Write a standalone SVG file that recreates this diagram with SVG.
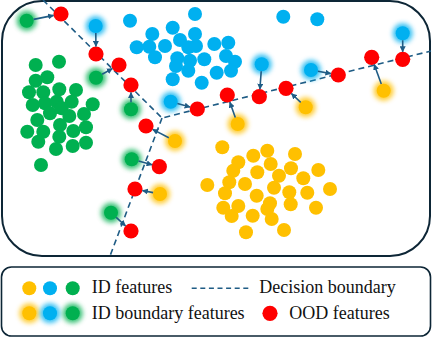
<svg xmlns="http://www.w3.org/2000/svg" width="432" height="338" viewBox="0 0 432 338">
<defs>
<style>
.frame{fill:#fff;stroke:#0d2636;stroke-width:2}
.g{fill:#00B050}.b{fill:#00B0F0}.y{fill:#FFC000}.r{fill:#FF0000}
.glow{filter:url(#blur);opacity:0.8}
.arrow{stroke:#1F5C85;stroke-width:1.6;fill:none;marker-end:url(#ah)}
.boundary{stroke:#1F5C85;stroke-width:1.6;stroke-dasharray:6 4;fill:none}
.lbl{font-family:"Liberation Serif","Times New Roman",serif;font-size:18px;fill:#111}
</style>
<filter id="blur" x="-60%" y="-60%" width="220%" height="220%"><feGaussianBlur stdDeviation="2.6"/></filter>
<marker id="ah" viewBox="0 0 6 6" refX="5.5" refY="3" markerWidth="6" markerHeight="6" markerUnits="userSpaceOnUse" orient="auto"><path d="M0,0 L6,3 L0,6 z" fill="#1F5C85"/></marker>
</defs>
<rect class="frame" x="2" y="1" width="428" height="255" rx="40"/>
<g id="decision-boundary">
<path class="boundary" d="M43,0 L162,118 L431,51 M162,118 L110,256"/>
</g>
<g id="id-blue-cluster" class="b">
<circle cx="130" cy="20.7" r="7"/><circle cx="195" cy="14" r="7"/><circle cx="172.7" cy="27.7" r="7"/><circle cx="152.3" cy="34" r="7"/><circle cx="195" cy="34" r="7"/><circle cx="180" cy="40" r="7"/><circle cx="136.7" cy="47.3" r="7"/><circle cx="149.3" cy="46.7" r="7"/><circle cx="165" cy="46" r="7"/><circle cx="188.3" cy="47.3" r="7"/><circle cx="196" cy="46" r="7"/><circle cx="214.3" cy="44" r="7"/><circle cx="228.3" cy="42.7" r="7"/><circle cx="155" cy="57.3" r="7"/><circle cx="177.3" cy="58.3" r="7"/><circle cx="190" cy="60.7" r="7"/><circle cx="204.3" cy="59.3" r="7"/><circle cx="226" cy="56" r="7"/><circle cx="235" cy="61.7" r="7"/><circle cx="176" cy="66" r="7"/><circle cx="188.3" cy="70.7" r="7"/><circle cx="216.7" cy="72.7" r="7"/><circle cx="231" cy="70.7" r="7"/><circle cx="172.7" cy="79.3" r="7"/><circle cx="201.7" cy="82.7" r="7"/><circle cx="283.3" cy="16.7" r="7"/><circle cx="317.3" cy="19.3" r="7"/>
</g>
<g id="id-green-cluster" class="g">
<circle cx="35.7" cy="65" r="7"/><circle cx="59" cy="61.7" r="7"/><circle cx="35.7" cy="80.7" r="7"/><circle cx="47.3" cy="77.3" r="7"/><circle cx="29" cy="92.3" r="7"/><circle cx="43.3" cy="92.3" r="7"/><circle cx="59.3" cy="89.3" r="7"/><circle cx="76" cy="90" r="7"/><circle cx="32.7" cy="105" r="7"/><circle cx="45" cy="103.3" r="7"/><circle cx="56.7" cy="101.7" r="7"/><circle cx="71.7" cy="101.7" r="7"/><circle cx="92.7" cy="104.3" r="7"/><circle cx="50" cy="113.3" r="7"/><circle cx="61.7" cy="108.3" r="7"/><circle cx="69.3" cy="116" r="7"/><circle cx="84" cy="114" r="7"/><circle cx="37.3" cy="120" r="7"/><circle cx="60" cy="125" r="7"/><circle cx="86" cy="127.3" r="7"/><circle cx="27.3" cy="131.7" r="7"/><circle cx="43.3" cy="131.7" r="7"/><circle cx="73.3" cy="131" r="7"/><circle cx="59.3" cy="136.7" r="7"/><circle cx="38.3" cy="141.7" r="7"/><circle cx="86" cy="142.7" r="7"/><circle cx="72.7" cy="146" r="7"/><circle cx="56" cy="149" r="7"/><circle cx="41" cy="165" r="7"/>
</g>
<g id="id-yellow-cluster" class="y">
<circle cx="222.3" cy="147.3" r="7"/><circle cx="253.3" cy="155.7" r="7"/><circle cx="267.3" cy="150.7" r="7"/><circle cx="295" cy="154" r="7"/><circle cx="238.3" cy="162.3" r="7"/><circle cx="270.7" cy="164" r="7"/><circle cx="233.3" cy="170.7" r="7"/><circle cx="257.3" cy="172.3" r="7"/><circle cx="291" cy="168.3" r="7"/><circle cx="318.3" cy="170" r="7"/><circle cx="279" cy="175.7" r="7"/><circle cx="303.3" cy="178.3" r="7"/><circle cx="207.3" cy="185" r="7"/><circle cx="229.3" cy="182.3" r="7"/><circle cx="245" cy="184" r="7"/><circle cx="274" cy="187.7" r="7"/><circle cx="225" cy="193.3" r="7"/><circle cx="289.3" cy="192.3" r="7"/><circle cx="307.3" cy="192.7" r="7"/><circle cx="330" cy="189" r="7"/><circle cx="256.7" cy="195.7" r="7"/><circle cx="270" cy="203.3" r="7"/><circle cx="290.7" cy="204.3" r="7"/><circle cx="223.3" cy="207.7" r="7"/><circle cx="238.3" cy="206" r="7"/><circle cx="316" cy="207.7" r="7"/><circle cx="267.3" cy="209" r="7"/><circle cx="252.7" cy="215.7" r="7"/><circle cx="231.7" cy="216" r="7"/><circle cx="271.7" cy="219" r="7"/><circle cx="246" cy="232.3" r="7"/><circle cx="284" cy="230" r="7"/>
</g>
<g id="boundary-features">
<g id="bf-green-1"><circle class="g glow" cx="26.7" cy="20.7" r="10"/><circle class="g" cx="26.7" cy="20.7" r="7"/></g>
<g id="bf-blue-1"><circle class="b glow" cx="95.7" cy="26" r="10"/><circle class="b" cx="95.7" cy="26" r="7"/></g>
<g id="bf-green-2"><circle class="g glow" cx="96" cy="77.7" r="10"/><circle class="g" cx="96" cy="77.7" r="7"/></g>
<g id="bf-green-3"><circle class="g glow" cx="131" cy="109.3" r="10"/><circle class="g" cx="131" cy="109.3" r="7"/></g>
<g id="bf-blue-2"><circle class="b glow" cx="170.7" cy="101.7" r="10"/><circle class="b" cx="170.7" cy="101.7" r="7"/></g>
<g id="bf-yellow-1"><circle class="y glow" cx="175" cy="141" r="10"/><circle class="y" cx="175" cy="141" r="7"/></g>
<g id="bf-green-4"><circle class="g glow" cx="131.7" cy="159.3" r="10"/><circle class="g" cx="131.7" cy="159.3" r="7"/></g>
<g id="bf-yellow-2"><circle class="y glow" cx="160" cy="194" r="10"/><circle class="y" cx="160" cy="194" r="7"/></g>
<g id="bf-green-5"><circle class="g glow" cx="111" cy="212.7" r="10"/><circle class="g" cx="111" cy="212.7" r="7"/></g>
<g id="bf-yellow-3"><circle class="y glow" cx="237.7" cy="124" r="10"/><circle class="y" cx="237.7" cy="124" r="7"/></g>
<g id="bf-blue-3"><circle class="b glow" cx="261.7" cy="64.3" r="10"/><circle class="b" cx="261.7" cy="64.3" r="7"/></g>
<g id="bf-yellow-4"><circle class="y glow" cx="305.7" cy="107.3" r="10"/><circle class="y" cx="305.7" cy="107.3" r="7"/></g>
<g id="bf-blue-4"><circle class="b glow" cx="311" cy="70" r="10"/><circle class="b" cx="311" cy="70" r="7"/></g>
<g id="bf-yellow-5"><circle class="y glow" cx="383.7" cy="90.7" r="10"/><circle class="y" cx="383.7" cy="90.7" r="7"/></g>
<g id="bf-blue-5"><circle class="b glow" cx="402.7" cy="33.3" r="10"/><circle class="b" cx="402.7" cy="33.3" r="7"/></g>
</g>
<g id="ood-features" class="r">
<g id="ood-1"><circle cx="61" cy="14" r="7.6"/></g>
<g id="ood-2"><circle cx="96" cy="54" r="7.6"/></g>
<g id="ood-3"><circle cx="119" cy="65" r="7.6"/></g>
<g id="ood-4"><circle cx="131" cy="85" r="7.6"/></g>
<g id="ood-5"><circle cx="197.3" cy="109" r="7.6"/></g>
<g id="ood-6"><circle cx="146" cy="126" r="7.6"/></g>
<g id="ood-7"><circle cx="159.3" cy="166.7" r="7.6"/></g>
<g id="ood-8"><circle cx="135" cy="189" r="7.6"/></g>
<g id="ood-9"><circle cx="131" cy="231" r="7.6"/></g>
<g id="ood-10"><circle cx="227.3" cy="95" r="7.6"/></g>
<g id="ood-11"><circle cx="259.3" cy="96.7" r="7.6"/></g>
<g id="ood-12"><circle cx="286" cy="88.3" r="7.6"/></g>
<g id="ood-13"><circle cx="338.3" cy="75" r="7.6"/></g>
<g id="ood-14"><circle cx="371.7" cy="57.3" r="7.6"/></g>
<g id="ood-15"><circle cx="402.7" cy="59.3" r="7.6"/></g>
</g>
<g id="connectors">
<line class="arrow" x1="33.6" y1="19.4" x2="53.6" y2="15.4"/>
<line class="arrow" x1="95.8" y1="33" x2="95.9" y2="46.5"/>
<line class="arrow" x1="102.1" y1="74.3" x2="112.4" y2="68.6"/>
<line class="arrow" x1="131" y1="102.3" x2="131" y2="92.5"/>
<line class="arrow" x1="177.4" y1="103.6" x2="190.1" y2="107"/>
<line class="arrow" x1="168.8" y1="137.8" x2="152.7" y2="129.4"/>
<line class="arrow" x1="138.5" y1="161.1" x2="152.1" y2="164.8"/>
<line class="arrow" x1="153.1" y1="192.6" x2="142.4" y2="190.5"/>
<line class="arrow" x1="116.2" y1="217.4" x2="125.5" y2="225.9"/>
<line class="arrow" x1="235.3" y1="117.4" x2="229.8" y2="102.1"/>
<line class="arrow" x1="261.2" y1="71.3" x2="259.9" y2="89.2"/>
<line class="arrow" x1="300.7" y1="102.4" x2="291.4" y2="93.5"/>
<line class="arrow" x1="317.9" y1="71.3" x2="330.9" y2="73.6"/>
<line class="arrow" x1="381.3" y1="84.1" x2="374.2" y2="64.4"/>
<line class="arrow" x1="402.7" y1="40.3" x2="402.7" y2="51.8"/>
</g>
<g id="legend">
<rect class="frame" x="1.5" y="267" width="429" height="69" rx="10" style="stroke-width:1.6"/>
<circle class="y" cx="29.3" cy="288.3" r="7"/><circle class="b" cx="50" cy="288.3" r="7"/><circle class="g" cx="72.7" cy="288.3" r="7"/>
<text class="lbl" x="91.7" y="293">ID features</text>
<line class="boundary" x1="191.7" y1="288.3" x2="249.3" y2="288.3" style="stroke-dasharray:5 3.6"/>
<text class="lbl" x="259.3" y="293">Decision boundary</text>
<circle class="y glow" cx="29.3" cy="313.3" r="10"/><circle class="b glow" cx="50" cy="313.3" r="10"/><circle class="g glow" cx="72.7" cy="313.3" r="10"/>
<circle class="y" cx="29.3" cy="313.3" r="7"/><circle class="b" cx="50" cy="313.3" r="7"/><circle class="g" cx="72.7" cy="313.3" r="7"/>
<text class="lbl" x="91.7" y="318.5">ID boundary features</text>
<circle class="r" cx="270" cy="313.3" r="7.6"/>
<text class="lbl" x="289.3" y="318.5">OOD features</text>
</g>
</svg>
